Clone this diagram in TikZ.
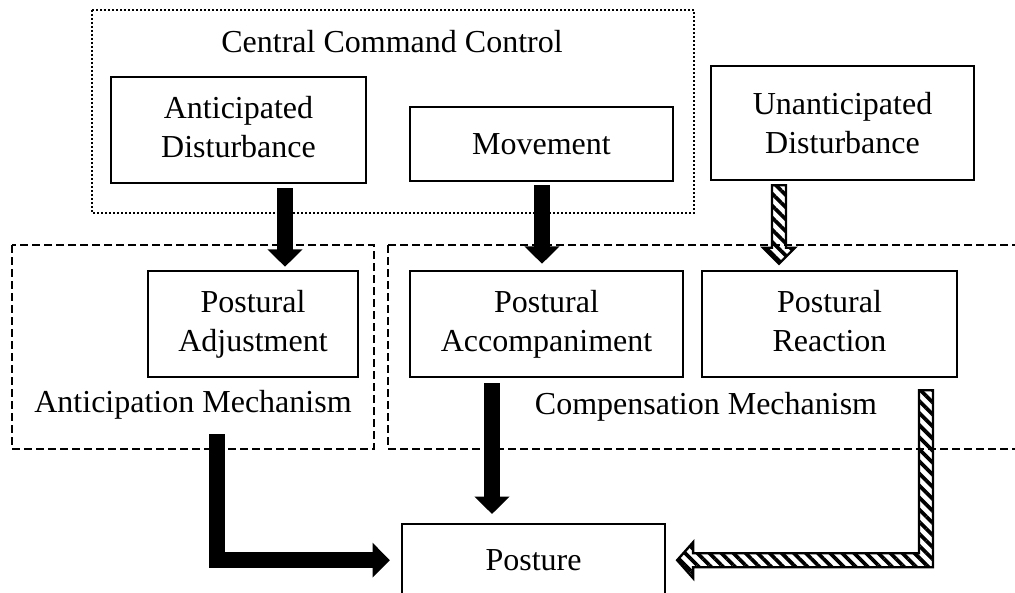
\documentclass[tikz,border=0pt]{standalone}
\usepackage{fontspec}
\setmainfont{Liberation Serif}
\usetikzlibrary{arrows.meta,calc,patterns.meta}

\begin{document}
\begin{tikzpicture}[x=0.375pt,y=-0.375pt,
  font=\fontsize{12}{14.5}\selectfont,
  stage/.style={draw,line width=0.9pt,align=center,inner sep=0pt},
  dotframe/.style={line width=1pt,dash pattern=on 0.75pt off 0.75pt},
  dashframe/.style={line width=0.8pt,dash pattern=on 3pt off 1.5pt},
  solidarrow/.style={line width=6pt,-{Triangle[width=12.75pt,length=6.5pt]}},
  hatcharrow/.style={draw,line width=0.9pt,pattern={Lines[angle=135,distance=3.2pt,line width=1.4pt]}}]
  \useasboundingbox (0,0) rectangle (1015,592);
  % group frames
  \draw[dotframe] (92,10) rectangle (694,213);
  \draw[dashframe] (12,245) rectangle (374,449);
  \draw[dashframe] (388,245) rectangle (1040,449);
  \node (ccc) at (392,42) {Central Command Control};
  \node (am) at (193,405) {Anticipation Mechanism};
  \node (cm) at (706,407) {Compensation Mechanism};
  % stages
  \node[stage,minimum width=95.6pt,minimum height=39.8pt] (ad) at (238.5,130) {Anticipated\\Disturbance\vphantom{p}};
  \node[stage,minimum width=98.6pt,minimum height=27.8pt] (mv) at (541.5,144) {Movement};
  \node[stage,minimum width=98.6pt,minimum height=42.8pt] (ud) at (842.5,123) {Unanticipated\\Disturbance};
  \node[stage,minimum width=78.8pt,minimum height=39.8pt] (pa) at (253,324) {Postural\\Adjustment};
  \node[stage,minimum width=102.4pt,minimum height=39.8pt] (pc) at (546.5,324) {Postural\\Accompaniment};
  \node[stage,minimum width=95.6pt,minimum height=39.8pt] (pr) at (829.5,324) {Postural\\Reaction\vphantom{p}};
  \node[stage,minimum width=98.6pt,minimum height=27pt,anchor=north] (po) at (533.5,523) {Posture};
  % solid arrows
  \draw[solidarrow] ($(ad.south)+(46.5,4)$) -- ($(pa.north)+(32,-3)$);
  \draw[solidarrow] ($(mv.south)+(0.5,3)$) -- ($(pc.north)+(-4.5,-6)$);
  \draw[solidarrow] ($(pc.south)+(-54.5,5)$) -- ($(po.north)+(-41.5,-9)$);
  \draw[solidarrow] ($(pa.south)+(-36,56)$) |- ($(po.west)+(-11,0)$);
  % hatched arrows
  \coordinate (u1) at ($(ud.south)+(-63.5,4)$);
  \coordinate (u2) at ($(u1 |- pr.north)+(0,-6)$);
  \draw[hatcharrow] ($(u1)+(-7,0)$) -- ($(u1)+(7,0)$) -- ($(u2)+(7,-16)$) -- ($(u2)+(16,-16)$)
    -- (u2) -- ($(u2)+(-16,-16)$) -- ($(u2)+(-7,-16)$) -- cycle;
  \coordinate (r1) at ($(pr.south)+(96.5,12)$);
  \coordinate (r2) at ($(po.east)+(11,0)$);
  \coordinate (rc) at (r1 |- r2);
  \draw[hatcharrow] ($(r1)+(-7,0)$) -- ($(r1)+(7,0)$) -- ($(rc)+(7,7)$) -- ($(r2)+(16,7)$)
    -- ($(r2)+(16,18)$) -- (r2) -- ($(r2)+(16,-18)$) -- ($(r2)+(16,-7)$) -- ($(rc)+(-7,-7)$) -- cycle;
\end{tikzpicture}
\end{document}
